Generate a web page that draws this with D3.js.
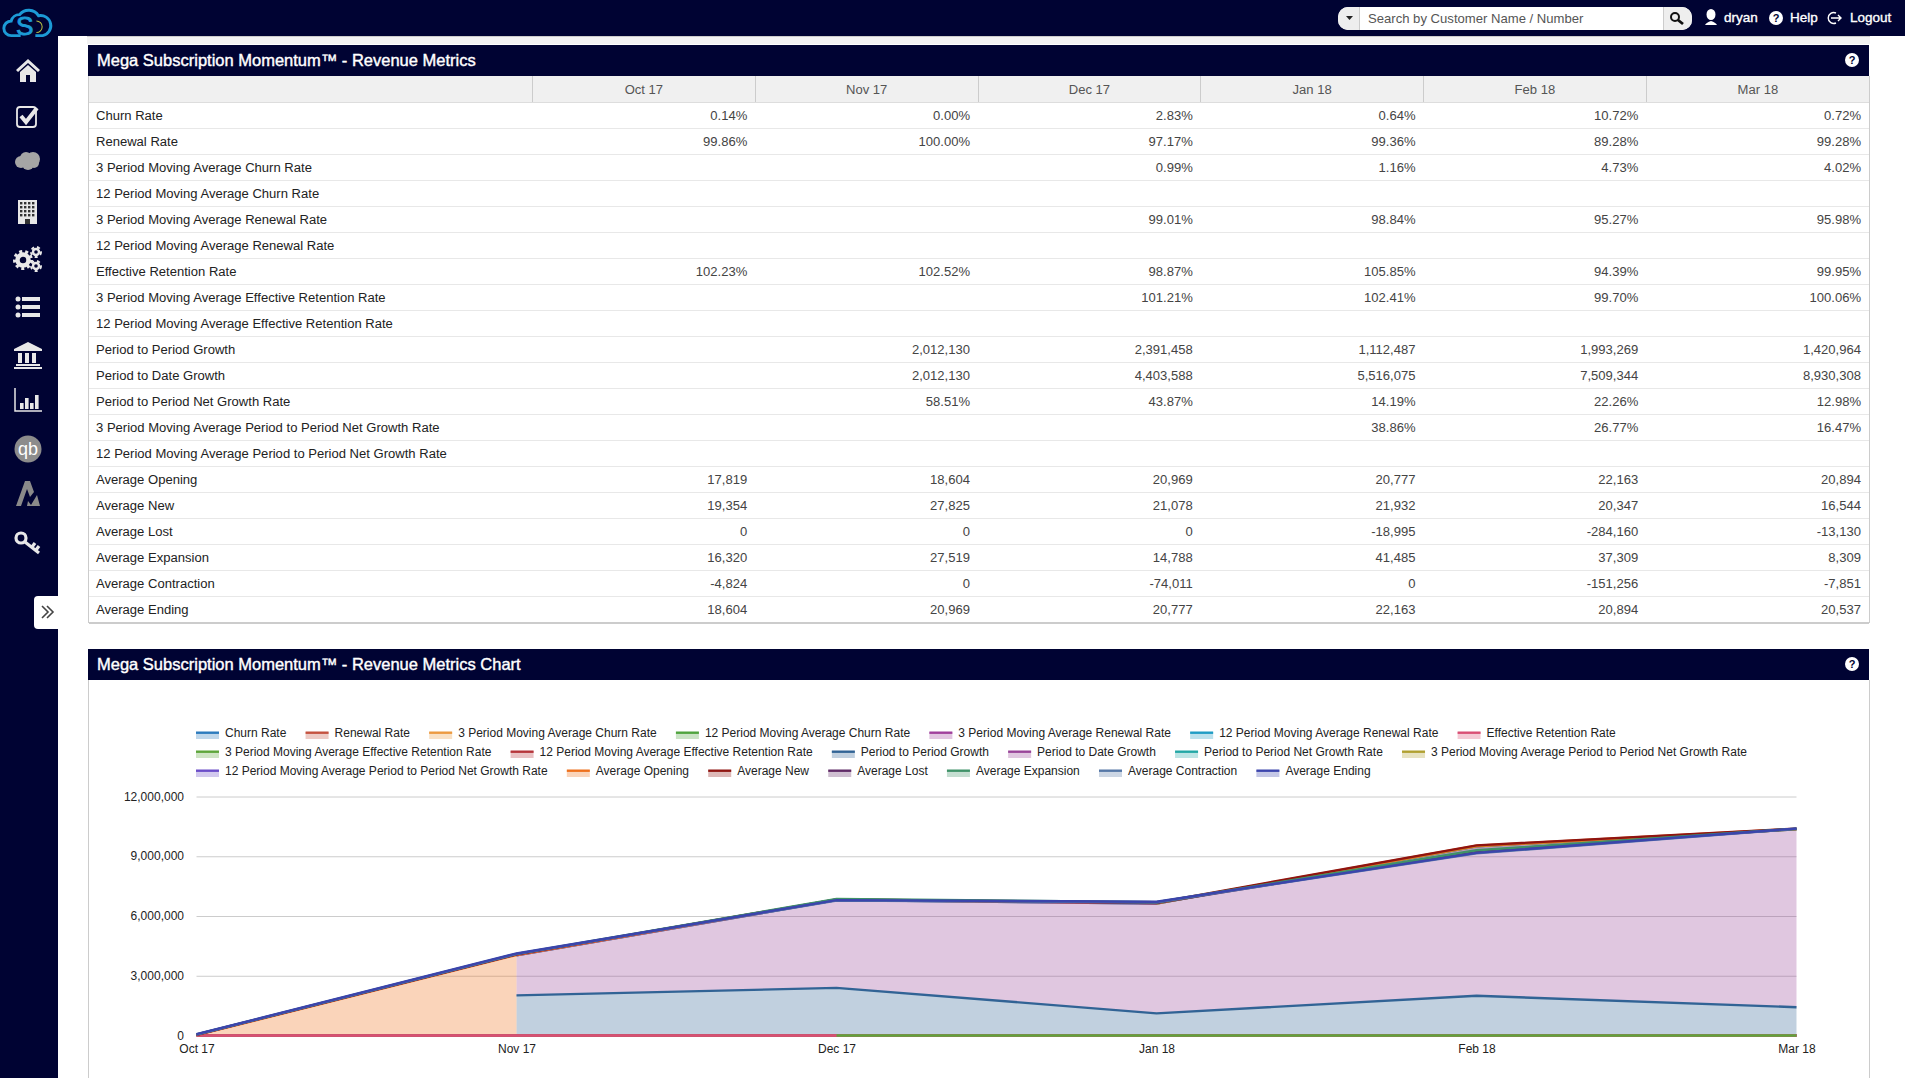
<!DOCTYPE html>
<html lang="en">
<head>
<meta charset="UTF-8">
<title>Mega Subscription Momentum - Revenue Metrics</title>
<script src="https://d3js.org/d3.v7.min.js"></script>
<style>
    html, body { margin: 0; padding: 0; background: #fff; }
    body {
        width: 1905px; height: 1078px; overflow: hidden; position: relative;
        font-family: "Liberation Sans", Arial, sans-serif;
    }
    .topbar { position: absolute; left: 0; top: 0; width: 1905px; height: 36px; background: #000333; }
    .sidebar { position: absolute; left: 0; top: 0; width: 58px; height: 1078px; background: #000333; }
    .strip { position: absolute; left: 87px; top: 36px; width: 1783px; height: 8px; background: #f3f3f3; border-top: 1px solid #ccc; box-sizing: border-box; }
    .panel-title {
        position: absolute; left: 88px; width: 1781px; background: #000333; color: #fff;
        font-size: 16.5px; -webkit-text-stroke: 0.4px #fff; box-sizing: border-box; padding-left: 9px;
    }
    .panel-border { position: absolute; width: 1px; background: #ccc; }
    table { position: absolute; left: 89px; top: 76px; border-collapse: collapse; table-layout: fixed; width: 1780px; font-size: 13.05px; }
    th { height: 26px; padding: 0; background: #f0f0f0; color: #555; font-weight: normal; border-left: 1px solid #ccc; border-bottom: 1px solid #ddd; }
    th:first-child { border-left: none; }
    td { height: 26px; padding: 0 8px 0 0; text-align: right; color: #444; border-bottom: 1px solid #e8e8e8; white-space: nowrap; box-sizing: border-box; }
    td:first-child { text-align: left; color: #222; padding-left: 7px; }
    tr:last-child td { border-bottom: 2px solid #ccc; }
    #page { position: absolute; left: 0; top: 0; }
    .search { position: absolute; left: 1338px; top: 7px; width: 354px; height: 23px; background: #fff; border-radius: 10px; overflow: hidden; font-size: 13.1px; color: #555; line-height: 23px; }
    .search .drop { position: absolute; left: 0; top: 0; width: 22px; height: 23px; background: #eee; border-right: 1px solid #ccc; box-sizing: border-box; }
    .search .go { position: absolute; right: 0; top: 0; width: 29px; height: 23px; background: #eee; border-left: 1px solid #ccc; box-sizing: border-box; }
    .search .ph { position: absolute; left: 30px; top: 0; }
    .nav-text { position: absolute; top: 9px; color: #fff; font-size: 13.5px; -webkit-text-stroke: 0.35px #fff; line-height: 18px; }
    .tab { position: absolute; left: 34px; top: 596px; width: 24px; height: 33px; background: #fff; border-radius: 4px 0 0 4px; }
</style>
</head>
<body>
<div class="topbar"></div>
<div class="sidebar"></div>
<div class="strip"></div>
<div class="panel-title" style="top:45px;height:31px;line-height:31px">Mega Subscription Momentum™ - Revenue Metrics</div>
<div class="panel-title" style="top:649px;height:31px;line-height:31px">Mega Subscription Momentum™ - Revenue Metrics Chart</div>
<div class="panel-border" style="left:88px;top:76px;height:547px"></div>
<div class="panel-border" style="left:1869px;top:76px;height:547px"></div>
<div class="panel-border" style="left:88px;top:680px;height:398px"></div>
<div class="panel-border" style="left:1869px;top:680px;height:398px"></div>
<table id="metrics"></table>
<div class="search"><div class="drop"></div><div class="ph">Search by Customer Name / Number</div><div class="go"></div></div>
<div class="nav-text" style="left:1724px">dryan</div>
<div class="nav-text" style="left:1790px">Help</div>
<div class="nav-text" style="left:1850px">Logout</div>
<div class="tab"></div>
<svg id="page" width="1905" height="1078"></svg>

<script>
const months = ["Oct 17", "Nov 17", "Dec 17", "Jan 18", "Feb 18", "Mar 18"];
const yTicks = [0, 3000000, 6000000, 9000000, 12000000];

// rates in percent, the rest in dollars
const churnRate = [0.14, 0.00, 2.83, 0.64, 10.72, 0.72];
const renewalRate = [99.86, 100.00, 97.17, 99.36, 89.28, 99.28];
const churn3 = [null, null, 0.99, 1.16, 4.73, 4.02];
const churn12 = [null, null, null, null, null, null];
const renewal3 = [null, null, 99.01, 98.84, 95.27, 95.98];
const renewal12 = [null, null, null, null, null, null];
const retention = [102.23, 102.52, 98.87, 105.85, 94.39, 99.95];
const retention3 = [null, null, 101.21, 102.41, 99.70, 100.06];
const retention12 = [null, null, null, null, null, null];
const periodGrowth = [null, 2012130, 2391458, 1112487, 1993269, 1420964];
const dateGrowth = [null, 2012130, 4403588, 5516075, 7509344, 8930308];
const netGrowth = [null, 58.51, 43.87, 14.19, 22.26, 12.98];
const netGrowth3 = [null, null, null, 38.86, 26.77, 16.47];
const netGrowth12 = [null, null, null, null, null, null];
const avgOpening = [17819, 18604, 20969, 20777, 22163, 20894];
const avgNew = [19354, 27825, 21078, 21932, 20347, 16544];
const avgLost = [0, 0, 0, -18995, -284160, -13130];
const avgExpansion = [16320, 27519, 14788, 41485, 37309, 8309];
const avgContraction = [-4824, 0, -74011, 0, -151256, -7851];
const avgEnding = [18604, 20969, 20777, 22163, 20894, 20537];

const metricNames = ["Churn Rate", "Renewal Rate", "3 Period Moving Average Churn Rate", "12 Period Moving Average Churn Rate",
    "3 Period Moving Average Renewal Rate", "12 Period Moving Average Renewal Rate", "Effective Retention Rate",
    "3 Period Moving Average Effective Retention Rate", "12 Period Moving Average Effective Retention Rate",
    "Period to Period Growth", "Period to Date Growth", "Period to Period Net Growth Rate",
    "3 Period Moving Average Period to Period Net Growth Rate", "12 Period Moving Average Period to Period Net Growth Rate",
    "Average Opening", "Average New", "Average Lost", "Average Expansion", "Average Contraction", "Average Ending"];
const metricValues = [churnRate, renewalRate, churn3, churn12, renewal3, renewal12, retention, retention3, retention12,
    periodGrowth, dateGrowth, netGrowth, netGrowth3, netGrowth12,
    avgOpening, avgNew, avgLost, avgExpansion, avgContraction, avgEnding];
const percentMetrics = ["Churn Rate", "Renewal Rate", "3 Period Moving Average Churn Rate", "12 Period Moving Average Churn Rate",
    "3 Period Moving Average Renewal Rate", "12 Period Moving Average Renewal Rate", "Effective Retention Rate",
    "3 Period Moving Average Effective Retention Rate", "12 Period Moving Average Effective Retention Rate",
    "Period to Period Net Growth Rate", "3 Period Moving Average Period to Period Net Growth Rate",
    "12 Period Moving Average Period to Period Net Growth Rate"];
const seriesColors = ["#2b7bbd", "#c4523f", "#ec9a40", "#4fa33e", "#a03f9c", "#1f9cc4", "#d94f74", "#5da53a", "#b5353a", "#316395",
    "#994499", "#22a7a5", "#b0a030", "#6a4cc8", "#ee701c", "#8f1410", "#5f2a66", "#3f9268", "#5577a6", "#3b44ac"];

const isPct = i => percentMetrics.includes(metricNames[i]);
const locale = d3.formatLocale({ decimal: ".", thousands: ",", grouping: [3], currency: ["$", ""], minus: "-" });
const fmtInt = locale.format(",d");
const fmtPct = d => d.toFixed(2) + "%";

// table
const table = d3.select("#metrics");
const colgroup = table.append("colgroup");
colgroup.append("col").style("width", "443.5px");
months.forEach(() => colgroup.append("col").style("width", "222.75px"));
const head = table.append("thead").append("tr");
head.append("th");
months.forEach(m => head.append("th").text(m));
const body = table.append("tbody");
metricNames.forEach((name, i) => {
    const tr = body.append("tr");
    tr.append("td").text(name);
    metricValues[i].forEach(v => tr.append("td").text(v === null ? "" : (isPct(i) ? fmtPct(v) : fmtInt(v))));
});

// chart
const svg = d3.select("#page");
const x = d3.scalePoint().domain(months).range([196.5, 1796.5]);
const y = d3.scaleLinear().domain([0, 12000000]).range([1035.5, 796.5]);

const grid = svg.append("g").attr("transform", "translate(196.5,0)")
    .call(d3.axisRight(y).tickValues(yTicks).tickSize(1600).tickFormat(""));
grid.select(".domain").remove();
grid.selectAll("line").attr("stroke", "#ccc");

const yAxis = svg.append("g").attr("transform", "translate(184,-0.25)")
    .call(d3.axisLeft(y).tickValues(yTicks).tickSize(0).tickPadding(0).tickFormat(d3.format(",d")));
yAxis.select(".domain").remove();
yAxis.selectAll("text").attr("font-family", "Liberation Sans").attr("font-size", 12).attr("fill", "#222");

const xAxis = svg.append("g").attr("transform", "translate(0,1035.5)")
    .call(d3.axisBottom(x).tickSize(0).tickPadding(9));
xAxis.select(".domain").remove();
xAxis.selectAll("text").attr("font-family", "Liberation Sans").attr("font-size", 12).attr("fill", "#222");

// cumulative stack; nulls leave a gap and the series above falls back to the next one down
const cum = [];
metricValues.forEach((vals, s) => {
    cum.push(vals.map((v, i) => {
        if (v === null) return null;
        let below = 0;
        for (let t = s - 1; t >= 0; t--) if (cum[t][i] !== null) { below = cum[t][i]; break; }
        return below + (isPct(s) ? v / 100 : v);
    }));
});

const area = d3.area().x(d => x(months[d.i])).y0(d => y(d.y0)).y1(d => y(d.y1));
const line = d3.line().x((d, i) => x(months[i])).y(d => y(d)).defined(d => d !== null);

const drawOrder = d3.range(metricNames.length).filter(s => s !== 11);
drawOrder.unshift(11); // the net growth rate line sits under the retention line on the baseline

const areas = svg.append("g");
const lines = svg.append("g");
drawOrder.forEach(s => {
    const pts = [];
    for (let i = 0; i < months.length - 1; i++) {
        if (cum[s][i] === null || cum[s][i + 1] === null) continue;
        let t = s - 1;
        while (t >= 0 && (cum[t][i] === null || cum[t][i + 1] === null)) t--;
        const base = t >= 0 ? cum[t] : months.map(() => 0);
        pts.push({ i: i, y0: base[i], y1: cum[s][i] }, { i: i + 1, y0: base[i + 1], y1: cum[s][i + 1] });
    }
    if (!pts.length) return;
    areas.append("path").attr("d", area(pts)).attr("fill", seriesColors[s]).attr("fill-opacity", 0.3);
    lines.append("path").attr("d", line(cum[s])).attr("fill", "none")
        .attr("stroke", seriesColors[s]).attr("stroke-width", 2.4);
});

// legend
const legendRows = [0, 7, 13, 20];
const legendY = [733, 752, 771];
const legend = svg.append("g").attr("font-family", "Liberation Sans").attr("font-size", 12).attr("fill", "#222");
legendY.forEach((ly, r) => {
    let lx = 196;
    d3.range(legendRows[r], legendRows[r + 1]).forEach(s => {
        const g = legend.append("g").attr("transform", `translate(${lx},${ly})`);
        g.append("rect").attr("y", -1).attr("width", 23).attr("height", 7).attr("fill", seriesColors[s]).attr("fill-opacity", 0.3);
        g.append("rect").attr("y", -1.5).attr("width", 23).attr("height", 2.4).attr("fill", seriesColors[s]);
        const t = g.append("text").attr("x", 29).attr("dy", "0.35em").text(metricNames[s]);
        lx += 29 + t.node().getComputedTextLength() + 19.2;
    });
});

// sidebar icons
const iconColor = "#e8e8e8";
const icons = svg.append("g").attr("fill", iconColor);
const at = (px, py) => icons.append("g").attr("transform", `translate(${px},${py})`);

// logo
const logo = icons.append("g").attr("transform", "translate(28,22) scale(1.05)");
logo.append("path").attr("fill", "none").attr("stroke", "#1c9ad6").attr("stroke-width", 2.8)
    .attr("d", "M-7,13 H-16 A7,7 0 0 1 -16,-1 A8,8 0 0 1 -8,-7 A11,11 0 0 1 10,-6 A9,9 0 0 1 14,13 H7");
logo.append("text").attr("text-anchor", "middle").attr("y", 12).attr("x", -3).attr("font-size", 25)
    .attr("font-family", "Liberation Sans").attr("fill", "#1c9ad6").attr("stroke", "#1c9ad6").attr("stroke-width", 0.8).text("S");
logo.append("path").attr("fill", "none").attr("stroke", "#b8c040").attr("stroke-width", 1).attr("d", "M8,-1 A5,5 0 1 1 8,10");

at(28, 70).append("path").attr("d", "M-12,0 L0,-11 L12,0 L10,2 L0,-7 L-10,2 Z M-8,2 L0,-5 L8,2 V12 H2 V5 H-2 V12 H-8 Z");
const check = at(28, 117);
check.append("rect").attr("x", -11).attr("y", -10).attr("width", 19).attr("height", 20).attr("rx", 3).attr("fill", "none").attr("stroke", iconColor).attr("stroke-width", 1.8);
check.append("path").attr("fill", "none").attr("stroke", iconColor).attr("stroke-width", 4).attr("d", "M-7,-1 L-2,5 L9,-9");
const sfCloud = at(28, 161);
[[-7, 1, 6], [-2, -3, 6], [5, -2, 7], [0, 3, 6], [6, 2, 5]].forEach(([cx, cy, r]) =>
    sfCloud.append("circle").attr("cx", cx).attr("cy", cy).attr("r", r).attr("fill", "#a5a5a5"));
const bld = at(28, 212);
bld.append("rect").attr("x", -10).attr("y", -12).attr("width", 19).attr("height", 24).attr("fill", iconColor);
d3.range(4).forEach(r => d3.range(4).forEach(c => bld.append("rect").attr("x", -8 + c * 4).attr("y", -10 + r * 4).attr("width", 2.4).attr("height", 2.4).attr("fill", "#333")));
bld.append("rect").attr("x", -3).attr("y", 7).attr("width", 5).attr("height", 5).attr("fill", "#333");
const gears = at(28, 259);
[[-5, 1, 5.5, 4.5, 8.5, 3], [8, -7, 3, 2.4, 5, 2], [8, 7, 3, 2.4, 5, 2]].forEach(([cx, cy, r, w, tr, tw]) => {
    gears.append("circle").attr("cx", cx).attr("cy", cy).attr("r", r).attr("fill", "none").attr("stroke", iconColor).attr("stroke-width", w);
    gears.append("circle").attr("cx", cx).attr("cy", cy).attr("r", tr).attr("fill", "none").attr("stroke", iconColor).attr("stroke-width", tw).attr("stroke-dasharray", "3 3");
});
const list = at(28, 307);
[-8, 0, 8].forEach(ly => {
    list.append("circle").attr("cx", -10).attr("cy", ly).attr("r", 2.5);
    list.append("rect").attr("x", -6).attr("y", ly - 2).attr("width", 18).attr("height", 4);
});
at(28, 354).append("path").attr("d", "M-14,-5 L0,-12 L14,-5 V-3 H-14 Z M-10,-1 H-6 V9 H-10 Z M-3,-1 H1 V9 H-3 Z M4,-1 H8 V9 H4 Z M-12,10 H12 V12 H-12 Z M-14,13 H14 V15 H-14 Z");
const bars = at(28, 400);
bars.append("path").attr("fill", "none").attr("stroke", iconColor).attr("stroke-width", 1.5).attr("d", "M-13,-12 V11 H14");
[[-8, 3], [-3, -2], [2, 3], [7, -5]].forEach(([bx, by]) => bars.append("rect").attr("x", bx).attr("y", by).attr("width", 3.6).attr("height", 9 - by));
const qb = at(28, 449);
qb.append("circle").attr("r", 13.5).attr("fill", "#8c8c8c");
qb.append("text").attr("text-anchor", "middle").attr("y", 5.5).attr("font-size", 18).attr("font-family", "Liberation Sans").attr("fill", "#fff").text("qb");
at(28, 494).append("path").attr("fill", "#8a8a8a").attr("d", "M-12,12 L-3,-13 H2 L6,-2 L2,3 L-1,-5 L-7,12 Z M0,7 L3,11 L9,1 L12,12 H-1 Z");
const key = at(27, 543);
key.append("circle").attr("cx", -6).attr("cy", -5).attr("r", 5).attr("fill", "none").attr("stroke", iconColor).attr("stroke-width", 3.2);
key.append("path").attr("fill", "none").attr("stroke", iconColor).attr("stroke-width", 3.2).attr("d", "M-2,-1 L12,10 M5,4 L8,0 M9,7 L12,3");
svg.append("path").attr("fill", "none").attr("stroke", "#444").attr("stroke-width", 1.6)
    .attr("d", "M42,606 L48,612 L42,618 M47,606 L53,612 L47,618");

// header icons
svg.append("path").attr("d", "M1346,16 H1353 L1349.5,20 Z").attr("fill", "#222");
const lens = svg.append("g").attr("fill", "none").attr("stroke", "#111").attr("stroke-width", 2);
lens.append("circle").attr("cx", 1675).attr("cy", 17).attr("r", 4);
lens.append("path").attr("stroke-width", 2.8).attr("d", "M1678,20 L1683,24");
svg.append("path").attr("fill", "#fff").attr("d", "M1711,9 A4.5,5.5 0 0 1 1711,20 V21 C1714,22 1716,23 1717,25 H1705 C1706,23 1708,22 1711,21 V20 A4.5,5.5 0 0 1 1711,9 Z");
const helpIcon = (cx, cy) => {
    svg.append("circle").attr("cx", cx).attr("cy", cy).attr("r", 7).attr("fill", "#fff");
    svg.append("text").attr("x", cx).attr("y", cy + 4).attr("text-anchor", "middle").attr("font-family", "Liberation Sans")
        .attr("font-size", 11).attr("font-weight", "bold").attr("fill", "#000333").text("?");
};
helpIcon(1776, 18);
helpIcon(1852, 60);
helpIcon(1852, 664);
svg.append("path").attr("fill", "none").attr("stroke", "#fff").attr("stroke-width", 1.4).attr("d", "M1836,13 A5.5,5.5 0 1 0 1836,23 M1831,18 H1841 M1838,15 L1841,18 L1838,21");
</script>
</body>
</html>
